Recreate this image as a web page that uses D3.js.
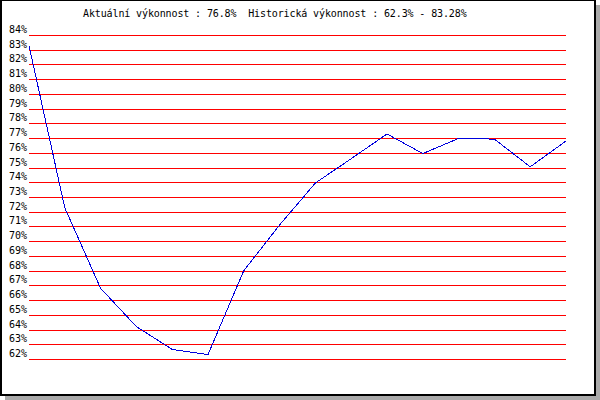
<!DOCTYPE html>
<head>
  <meta charset="utf-8">
  <script src="https://d3js.org/d3.v7.min.js"></script>
  <style>
    body { margin:0; background-color: #ffffff; }
    svg { display:block; }
    text { font-family: "DejaVu Sans Mono", monospace; font-size: 10px; fill: #000; white-space: pre; }
  </style>
</head>
<body>
<div class="chart-container"></div>
<script>
// performance over time, in percent
var values = [83.28, 72.26, 66.8, 64.2, 62.65, 62.3, 68.0, 71.1, 73.95, 75.6, 77.28, 75.95, 76.98, 76.93, 75.05, 76.8];
var tickValues = d3.range(62, 85); // 62% .. 84%
var titleText = "Aktuální výkonnost : 76.8%  Historická výkonnost : 62.3% - 83.28%";

var svg = d3.select(".chart-container").append("svg")
  .attr("width", 600)
  .attr("height", 400);

// shadow + frame
svg.append("rect").attr("x", 5).attr("y", 5).attr("width", 595).attr("height", 395).attr("fill", "#aaaaaa");
svg.append("rect").attr("x", 0).attr("y", -1).attr("width", 596).attr("height", 397).attr("fill", "#000");
svg.append("rect").attr("x", 2).attr("y", 1).attr("width", 592).attr("height", 393).attr("fill", "#fff");

var xScale = d3.scaleLinear()
  .domain([0, values.length - 1])
  .range([29, 566]);

var yScale = d3.scaleLinear()
  .domain([62, 84])
  .range([359, 35]);

svg.append("text")
  .attr("x", 83)
  .attr("y", 17)
  .attr("xml:space", "preserve")
  .style("letter-spacing", "-0.12px")
  .text(titleText);

// grid lines
svg.selectAll("line.grid")
  .data(tickValues)
  .enter().append("line")
  .attr("class", "grid")
  .attr("x1", 29)
  .attr("x2", 566)
  .attr("y1", function(d) { return Math.round(yScale(d)) + 0.5; })
  .attr("y2", function(d) { return Math.round(yScale(d)) + 0.5; })
  .attr("stroke", "#ff0000")
  .attr("stroke-width", 1)
  .attr("shape-rendering", "crispEdges");

// labels sit just above their line
svg.selectAll("text.lbl")
  .data(tickValues)
  .enter().append("text")
  .attr("class", "lbl")
  .attr("x", 27)
  .attr("y", function(d) { return Math.round(yScale(d)) - 2; })
  .attr("text-anchor", "end")
  .text(function(d) { return d + "%"; });

var line = d3.line()
  .x(function(d, i) { return xScale(i); })
  .y(function(d) { return yScale(d); });

svg.append("path")
  .datum(values)
  .attr("d", line)
  .attr("fill", "none")
  .attr("stroke", "#0000dd")
  .attr("stroke-width", 1)
  .attr("shape-rendering", "crispEdges");
</script>
</body>
